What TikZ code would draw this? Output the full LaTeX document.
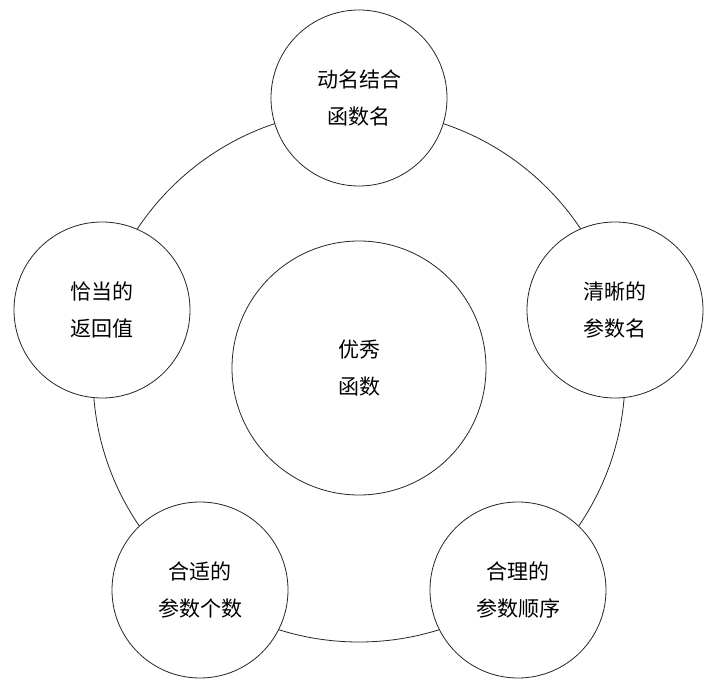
\documentclass[tikz,border=0pt]{standalone}
\usepackage{fontspec}
\newfontfamily\cjk{Noto Sans CJK SC}
\usetikzlibrary{positioning}
\begin{document}
\begin{tikzpicture}[x=1pt,y=-1pt,
        ring/.style={circle, draw=black!85, line width=0.8pt, fill=white,
                     minimum size=176pt, inner sep=0pt, align=center,
                     font=\cjk\fontsize{21}{37}\selectfont},
        core/.style={ring, minimum size=254pt},
      ]
        \useasboundingbox (0,0) rectangle (721,692);
        % Outer ring behind the circles
        \draw[black!85, line width=0.8pt] (359,376) circle (266);

        \node[core] (best) at (359,368) {优秀\\函数};
        \node[ring] (name)   at (359,98)  {动名结合\\函数名};
        \node[ring] (param)  at (615,310) {清晰的\\参数名};
        \node[ring] (order)  at (518,590) {合理的\\参数顺序};
        \node[ring] (count)  at (200,590) {合适的\\参数个数};
        \node[ring] (result) at (102,310) {恰当的\\返回值};
      \end{tikzpicture}
\end{document}
